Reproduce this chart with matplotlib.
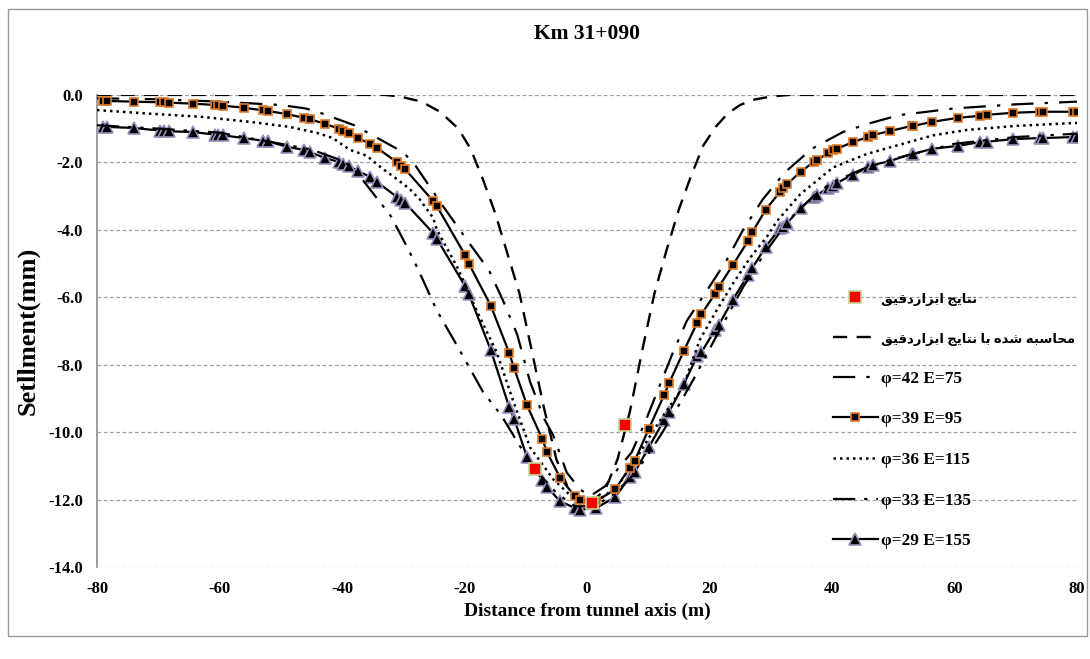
import matplotlib
matplotlib.use("Agg")
import matplotlib.pyplot as plt
from matplotlib.patches import Rectangle

# ---- data ----
meas_x = [-8.5, 0.8, 6.2]
meas_y = [-11.1, -12.1, -9.8]

fit_x = [-80, -33, -30.5, -27, -24, -21, -19, -17, -15, -13, -11, -9, -7, -5, -3, 0,
         3, 5, 7, 9, 11, 13, 15, 17, 19, 21, 23, 25, 27, 30, 33, 80]
fit_y = [0.0, 0.0, -0.05, -0.2, -0.5, -1.0, -1.6, -2.5, -3.5, -4.7, -5.9, -7.6, -9.3, -10.8, -11.7, -12.2,
         -11.7, -10.8, -9.4, -7.6, -5.9, -4.6, -3.4, -2.4, -1.5, -0.95, -0.55, -0.3, -0.15, -0.05, 0.0, 0.0]

p42_x = [-80, -70, -60, -50, -46, -44, -38, -33, -30, -28, -23.5, -19.6, -16, -13.7, -11.4, -9.3, -7, -5.5,
         -3.3, -1.1, 0.5, 3, 5, 7.3, 9.5, 11.7, 13.9, 16.3, 19.6, 22.8, 25.5, 28.7, 32.3, 36.7, 41.8, 46, 51, 60, 70, 80]
p42_y = [-0.1, -0.13, -0.2, -0.3, -0.4, -0.5, -0.9, -1.4, -1.7, -2.1, -3.3, -4.3, -5.2, -6.1, -7.1, -8.5, -9.6, -10.1,
         -11.2, -11.7, -11.9, -11.6, -11.1, -10.6, -9.7, -8.7, -7.7, -6.7, -5.8, -4.9, -4.0, -3.1, -2.3, -1.6, -1.1, -0.85, -0.6, -0.4, -0.28, -0.2]

# shared x positions of the markers for phi=39 and phi=29
mk_x = [-79, -78.4, -74, -69.7, -69, -68.2, -64.3, -60.7, -60.2, -59.4, -56, -52.9, -52, -49, -46.2, -45.2,
        -42.8, -40.5, -39.8, -38.9, -37.4, -35.4, -34.3, -31, -30.4, -29.7, -25.1, -24.5, -19.9, -19.3, -15.7,
        -12.7, -11.9, -9.8, -7.3, -6.5, -4.4, -2, -1.1, 1.5, 4.6, 7, 7.8, 10.1, 12.6, 13.4, 15.8, 18, 18.7,
        20.9, 21.5, 23.8, 26.3, 27, 29.2, 31.5, 32, 32.7, 34.9, 37, 37.6, 39.4, 40.2, 40.8, 43.4, 45.9, 46.7,
        49.5, 53, 53.3, 56.3, 60.6, 64.2, 65.3, 69.6, 74, 74.5, 79.4, 80]
p39_y = [-0.18, -0.18, -0.2, -0.22, -0.22, -0.23, -0.26, -0.3, -0.31, -0.32, -0.38, -0.46, -0.48, -0.57, -0.68, -0.72,
         -0.86, -1.0, -1.06, -1.13, -1.28, -1.45, -1.57, -2.0, -2.1, -2.2, -3.15, -3.3, -4.75, -5.0, -6.25,
         -7.65, -8.1, -9.2, -10.2, -10.6, -11.35, -11.9, -12.0, -12.05, -11.7, -11.05, -10.85, -9.9, -8.9, -8.55, -7.6, -6.75, -6.5,
         -5.9, -5.7, -5.05, -4.33, -4.07, -3.4, -2.88, -2.76, -2.64, -2.28, -1.99, -1.93, -1.72, -1.63, -1.6, -1.4, -1.25, -1.19,
         -1.07, -0.92, -0.92, -0.8, -0.68, -0.62, -0.59, -0.53, -0.5, -0.5, -0.5, -0.5]
p29_y = [-0.95, -0.95, -0.98, -1.06, -1.07, -1.08, -1.1, -1.18, -1.19, -1.2, -1.28, -1.36, -1.38, -1.54, -1.63, -1.7,
         -1.87, -1.99, -2.05, -2.1, -2.26, -2.43, -2.58, -3.03, -3.12, -3.2, -4.1, -4.27, -5.67, -5.9, -7.57,
         -9.26, -9.6, -10.74, -11.42, -11.63, -12.05, -12.25, -12.3, -12.25, -11.93, -11.33, -11.19, -10.45, -9.64, -9.4, -8.58, -7.75, -7.63,
         -6.97, -6.83, -6.08, -5.34, -5.13, -4.5, -3.95, -3.92, -3.8, -3.35, -3.02, -2.97, -2.75, -2.7, -2.61, -2.37, -2.15, -2.08,
         -1.96, -1.75, -1.75, -1.6, -1.51, -1.4, -1.39, -1.31, -1.28, -1.28, -1.25, -1.25]

p36_x = [-80, -72, -63, -55, -48.5, -44, -41.5, -38.7, -36, -33.3, -31, -28.9, -27.3, -25.1, -24.5, -21.2, -18, -14.7,
         -12.1, -9.3, -5.5, -2, 0, 2, 5, 8, 10, 12.5, 15.7, 18.4, 21.2, 23.9, 26.6, 29.4, 31, 34.8, 40.2, 45.7, 51, 56.5, 62, 70, 80]
p36_y = [-0.45, -0.55, -0.65, -0.8, -0.95, -1.13, -1.28, -1.63, -1.8, -2.2, -2.5, -2.8, -3.1, -3.65, -4.0, -5.1, -6.4, -7.65,
         -9.05, -10.45, -11.4, -12.0, -12.1, -12.0, -11.6, -10.8, -10.2, -9.5, -8.66, -7.27, -6.38, -5.58, -4.84, -4.2, -3.75, -2.95, -2.15, -1.75, -1.48, -1.2, -1.04, -0.92, -0.83]

p33_x = [-80, -70, -60, -50, -45, -40, -38, -35, -32, -29.4, -27.5, -24.5, -21, -17, -14, -11, -8, -5, -2, 1,
         4, 8, 12, 15, 17.5, 21, 25.5, 29, 33, 37, 40, 45, 50, 60, 70, 80]
p33_y = [-0.9, -1.0, -1.12, -1.45, -1.62, -1.95, -2.2, -2.9, -3.6, -4.5, -5.2, -6.4, -7.5, -8.8, -9.5, -10.4, -11.2, -11.8, -12.2, -12.2,
         -11.9, -11.2, -10.1, -9.2, -8.4, -7.2, -5.7, -4.7, -3.7, -3.0, -2.6, -2.2, -1.9, -1.45, -1.25, -1.15]

legend_labels = ['نتایج ابزاردقیق', 'محاسبه شده با نتایج ابزاردقیق',
                 'φ=42 E=75', 'φ=39 E=95', 'φ=36 E=115', 'φ=33 E=135', 'φ=29 E=155']

# ---- simple Persian shaping (matplotlib has no complex text layout) ----
FORMS = {
    'ا': ('\uFE8D', '\uFE8E', None, None),
    'ب': ('\uFE8F', '\uFE90', '\uFE91', '\uFE92'),
    'ت': ('\uFE95', '\uFE96', '\uFE97', '\uFE98'),
    'ج': ('\uFE9D', '\uFE9E', '\uFE9F', '\uFEA0'),
    'ح': ('\uFEA1', '\uFEA2', '\uFEA3', '\uFEA4'),
    'د': ('\uFEA9', '\uFEAA', None, None),
    'ر': ('\uFEAD', '\uFEAE', None, None),
    'ز': ('\uFEAF', '\uFEB0', None, None),
    'س': ('\uFEB1', '\uFEB2', '\uFEB3', '\uFEB4'),
    'ش': ('\uFEB5', '\uFEB6', '\uFEB7', '\uFEB8'),
    'ق': ('\uFED5', '\uFED6', '\uFED7', '\uFED8'),
    'م': ('\uFEE1', '\uFEE2', '\uFEE3', '\uFEE4'),
    'ن': ('\uFEE5', '\uFEE6', '\uFEE7', '\uFEE8'),
    'ه': ('\uFEE9', '\uFEEA', '\uFEEB', '\uFEEC'),
    'ی': ('\uFBFC', '\uFBFD', '\uFBFE', '\uFBFF'),
}


def shape(text):
    if not any(c in FORMS for c in text):
        return text
    out = []
    for i, ch in enumerate(text):
        if ch not in FORMS:
            out.append(ch)
            continue
        prev = text[i - 1] if i > 0 else ''
        nxt = text[i + 1] if i + 1 < len(text) else ''
        jp = prev in FORMS and FORMS[prev][2] is not None
        jn = nxt in FORMS and FORMS[ch][2] is not None
        iso, fin, ini, med = FORMS[ch]
        if jp and jn:
            out.append(med)
        elif jp:
            out.append(fin)
        elif jn:
            out.append(ini)
        else:
            out.append(iso)
    return ''.join(reversed(out))


plt.rcParams['font.family'] = ['Liberation Serif', 'DejaVu Sans']
plt.rcParams['font.weight'] = 'bold'
plt.rcParams['axes.unicode_minus'] = False

fig = plt.figure(figsize=(10.9, 6.59), dpi=100)
fig.patches.append(Rectangle((0.007, 0.035), 0.99, 0.952, transform=fig.transFigure,
                             fill=False, edgecolor='#9a9a9a', linewidth=1.0))
ax = fig.add_axes([0.089, 0.1396, 0.899, 0.7164])

ax.plot(mk_x, p29_y, color='black', lw=1.6, marker='^', ms=8, mfc='black',
        mec='#9c8fbf', mew=1.2, zorder=3, label=legend_labels[6])
ax.plot(p33_x, p33_y, color='black', lw=1.6, ls=(0, (10, 4, 1.5, 4, 1.5, 4)), zorder=3, label=legend_labels[5])
ax.plot(p36_x, p36_y, color='black', lw=1.8, ls=(0, (1, 1.6)), zorder=3, label=legend_labels[4])
ax.plot(mk_x, p39_y, color='black', lw=1.6, marker='s', ms=6, mfc='black',
        mec='#e07b28', mew=1.2, zorder=4, label=legend_labels[3])
ax.plot(p42_x, p42_y, color='black', lw=1.6, ls=(0, (10, 5, 1.5, 5)), zorder=3, label=legend_labels[2])
ax.plot(fit_x, fit_y, color='black', lw=1.7, ls=(0, (6, 4)), zorder=3, label=legend_labels[1])
ax.plot(meas_x, meas_y, ls='none', marker='s', ms=9, mfc='#ff0000', mec='#c3d69b', mew=1.2,
        zorder=5, label=legend_labels[0])

ax.set_xlim(-80, 80)
ax.set_ylim(-14, 0)
ax.set_xticks(range(-80, 81, 20))
ax.set_yticks([v * 2.0 for v in range(-7, 1)])
ax.set_yticklabels(['%.1f' % (v * 2.0) for v in range(-7, 1)])
ax.tick_params(length=0, labelsize=12, pad=10)
for lab in ax.get_xticklabels() + ax.get_yticklabels():
    lab.set_fontweight('bold')
ax.yaxis.grid(True, ls=(0, (3, 2)), color='#a0a0a0', lw=0.9)
ax.set_axisbelow(True)
for s in ['top', 'right', 'bottom']:
    ax.spines[s].set_visible(False)
ax.spines['left'].set_color('#8c8c8c')
ax.spines['left'].set_linewidth(1.2)

ax.set_title('Km 31+090', fontsize=15.5, fontweight='bold', pad=40)
ax.set_xlabel('Distance from tunnel axis (m)', fontsize=14, fontweight='bold', labelpad=4)
ax.set_ylabel('Setllment(mm)', fontsize=19, fontweight='bold', labelpad=6)

handles, labels = ax.get_legend_handles_labels()
order = [6, 5, 4, 3, 2, 1, 0]
leg = ax.legend([handles[i] for i in order], [shape(labels[i]) for i in order],
                loc='upper left', bbox_to_anchor=(0.751, 0.584), frameon=False,
                borderpad=0, borderaxespad=0,
                handlelength=2.6, handletextpad=0.2, labelspacing=1.43,
                prop={'size': 12.4, 'weight': 'bold'})
for t in leg.get_texts()[:2]:
    t.set_fontsize(9.5)

fig.savefig('out.png', dpi=100)
